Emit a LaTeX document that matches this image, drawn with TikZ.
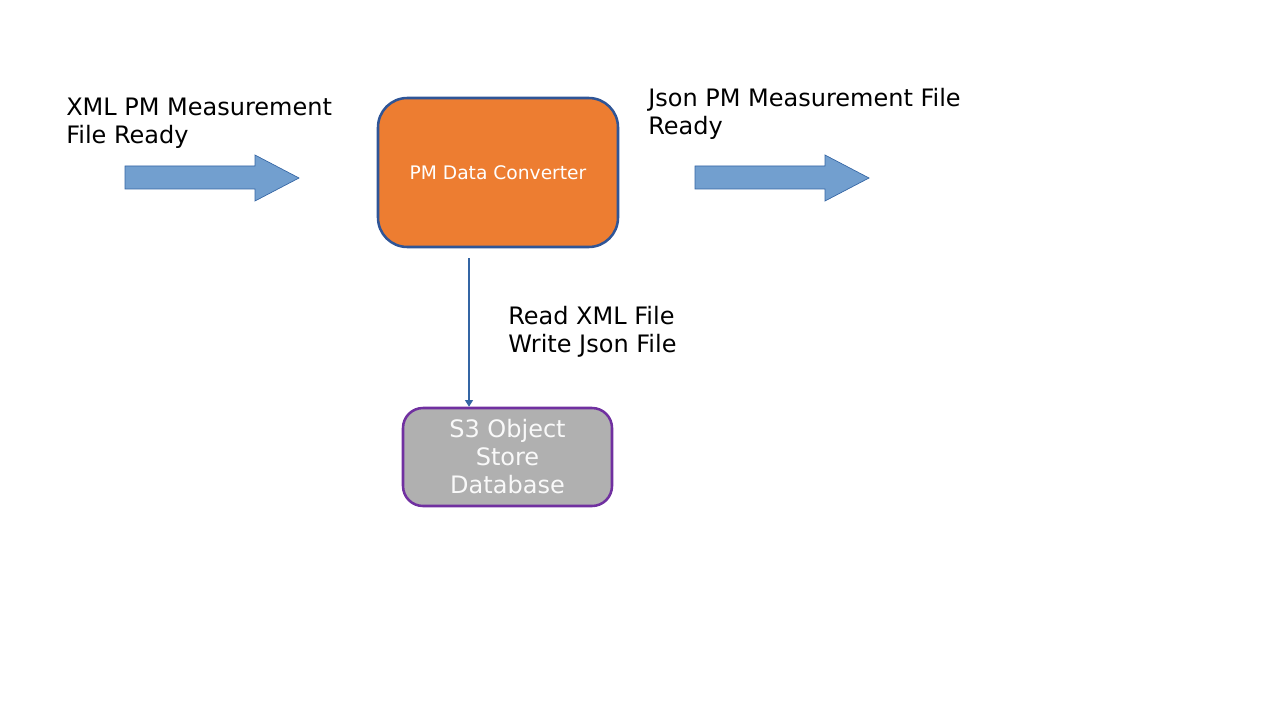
\documentclass[tikz,border=0pt]{standalone}
\usepackage{fontspec}
\setmainfont{DejaVu Sans}
\usetikzlibrary{arrows.meta}

\definecolor{convorange}{HTML}{ED7D31}
\definecolor{convedge}{HTML}{2F5597}
\definecolor{storegray}{HTML}{B0B0B0}
\definecolor{storeedge}{HTML}{7030A0}
\definecolor{arrowfill}{HTML}{729FCF}
\definecolor{arrowedge}{HTML}{3465A4}

\tikzset{
    box/.style={rounded corners=22pt, line width=1.9pt, align=center, inner sep=0pt},
    label/.style={anchor=base west, align=left, inner sep=0pt, font=\fontsize{18}{21}\selectfont},
    link/.style={draw=arrowedge, line width=0.8pt, -{Triangle[width=6pt, length=5pt]}},
}

\begin{document}
\begin{tikzpicture}[x=0.75pt, y=-0.75pt]
    \useasboundingbox (0, 0) rectangle (1280, 720);

    % block arrows in and out
    \foreach \x in {125, 695} {
        \draw[fill=arrowfill, draw=arrowedge, line width=0.5pt]
            (\x, 166) -- (\x+130, 166) -- (\x+130, 155) -- (\x+174, 178)
            -- (\x+130, 201) -- (\x+130, 189) -- (\x, 189) -- cycle;
    }

    \node[box, fill=convorange, draw=convedge, minimum width=180pt, minimum height=111.75pt,
          text=white, font=\fontsize{14}{17}\selectfont] (conv) at (498, 172.5) {PM Data Converter};

    \node[box, rounded corners=15pt, fill=storegray, draw=storeedge, minimum width=156.75pt,
          minimum height=73.5pt, text=white!95!gray, font=\fontsize{18}{21}\selectfont]
          (store) at (507.5, 457) {\raisebox{-1.5pt}{\parbox{150pt}{\centering S3 Object\\Store\\Database}}};

    % labels, anchored at the baseline of their last line
    \node[label] (xmlready) at (66, 144) {XML PM Measurement\\File Ready};
    \node[label] (jsonready) at (648, 135) {Json PM Measurement File\\Ready};
    \node[label] (rw) at (508, 352) {Read XML File\\Write Json File};

    \coordinate (tap) at (469, 258);
    \draw[link] (tap) -- (tap |- store.north);
\end{tikzpicture}
\end{document}
